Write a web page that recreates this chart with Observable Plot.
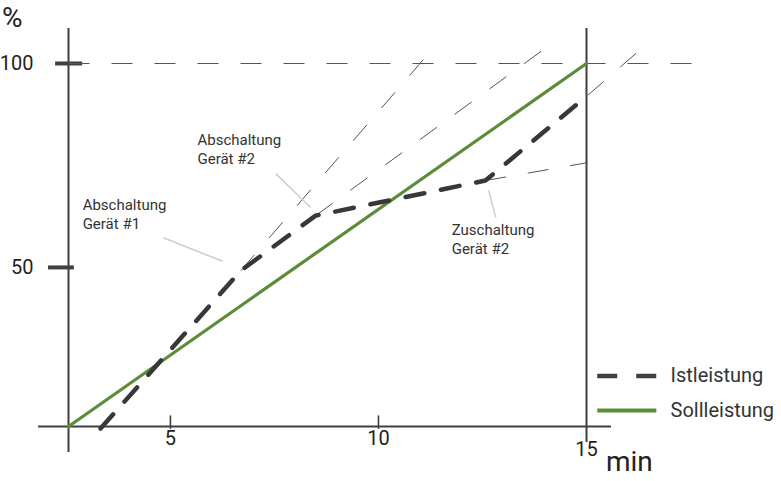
<!DOCTYPE html>
<html><head><meta charset="utf-8">
<script src="https://cdn.jsdelivr.net/npm/d3@7"></script>
<script src="https://cdn.jsdelivr.net/npm/@observablehq/plot@0.6"></script>
<style>body{margin:0;background:#fff;} svg{display:block;}</style>
</head><body><div id="chart"></div>
<script>
// Sollleistung (target power), % over minutes
const sollX = [2.55, 15];
const sollY = [11, 100];
// Istleistung (actual power)
const istX = [3.32, 6.69, 8.49, 12.57, 15.03];
const istY = [10.5, 49.2, 62.7, 71.3, 92.2];
// thin dashed guide lines (extensions of the segments + 100 % line)
const guideX1 = [2.55, 6.69, 8.49, 15.03, 12.57];
const guideY1 = [100, 49.2, 62.7, 92.2, 71.3];
const guideX2 = [17.86, 11.37, 14.14, 16.35, 15.03];
const guideY2 = [100, 104.4, 104.7, 103.9, 75.7];
// annotations
const annoText = ["Abschaltung\nGerät #1", "Abschaltung\nGerät #2", "Zuschaltung\nGerät #2"];
const annoX = [2.89, 5.65, 11.76];
const annoY = [63.3, 79.3, 57.0];
const leadX1 = [4.83, 7.53, 12.65];
const leadY1 = [57.3, 73.0, 68.9];
const leadX2 = [6.25, 8.37, 12.82];
const leadY2 = [51.5, 64.7, 62.2];
// ticks
const xTicks = [5, 10];
const xTickLast = [15];
const yTicks = [50, 100];
const seriesNames = ["Istleistung", "Sollleistung"];
const legendY = [23.4, 14.9];

const soll = sollX.map((x, i) => ({x, y: sollY[i]}));
const ist = istX.map((x, i) => ({x, y: istY[i]}));
const guides = guideX1.map((x1, i) => ({x1, y1: guideY1[i], x2: guideX2[i], y2: guideY2[i]}));
const annos = annoText.map((t, i) => ({t, x: annoX[i], y: annoY[i], x1: leadX1[i], y1: leadY1[i], x2: leadX2[i], y2: leadY2[i]}));
const legend = seriesNames.map((name, i) => ({name, y: legendY[i]}));

const AX = "#3f3f3f";
const GREEN = "#5b8c38";

const chart = Plot.plot({
  width: 781, height: 481,
  marginLeft: 68, marginRight: 195, marginTop: 63, marginBottom: 55,
  x: {domain: [2.55, 15]},
  y: {domain: [11, 100]},
  style: {fontFamily: "Roboto", background: "white", color: "#222", overflow: "visible"},
  marks: [
    // axis lines
    Plot.ruleY([11], {x1: 1.83, x2: 15.6, stroke: AX, strokeWidth: 2}),
    Plot.ruleX([2.55], {y1: 4.6, y2: 108.6, stroke: AX, strokeWidth: 2}),
    Plot.ruleX([15], {y1: 7.1, y2: 108.6, stroke: AX, strokeWidth: 2}),
    // x ticks
    Plot.ruleX(xTicks, {y1: 10.3, y2: 13.6, stroke: AX, strokeWidth: 1.6}),
    // y ticks (thick)
    Plot.ruleY([yTicks[1]], {x1: 2.24, x2: 2.89, stroke: AX, strokeWidth: 4}),
    Plot.ruleY([yTicks[0]], {x1: 2.07, x2: 2.69, stroke: AX, strokeWidth: 4}),
    Plot.axisY({ticks: yTicks, tickSize: 0, tickPadding: 35, fontSize: 20, label: null, color: "#222"}),
    Plot.axisX({ticks: xTicks, tickSize: 0, tickPadding: 4, fontSize: 20, label: null, color: "#222"}),
    Plot.axisX({ticks: xTickLast, tickSize: 0, tickPadding: 15, fontSize: 20, label: null, color: "#222"}),
    Plot.text(["%"], {x: 1.2, y: 111.2, text: d => d, fontSize: 28, fill: "#222"}),
    Plot.text(["min"], {x: 16.03, y: 2.3, text: d => d, fontSize: 28, fill: "#222"}),
    // guides
    Plot.link(guides, {x1: "x1", y1: "y1", x2: "x2", y2: "y2", stroke: "#555", strokeWidth: 1, strokeDasharray: "21,22"}),
    // leader lines
    Plot.link(annos, {x1: "x1", y1: "y1", x2: "x2", y2: "y2", stroke: "#cfcfcf", strokeWidth: 1.6}),
    Plot.text(annos, {x: "x", y: "y", text: "t", textAnchor: "start", fontSize: 15, lineHeight: 1.27, fill: "#333"}),
    // series
    Plot.line(soll, {x: "x", y: "y", stroke: GREEN, strokeWidth: 3.2}),
    Plot.line(ist, {x: "x", y: "y", stroke: "#383838", strokeWidth: 4.5, strokeDasharray: "19,17", strokeLinejoin: "miter"}),
    // legend
    Plot.ruleY(legend.slice(0, 1), {y: "y", x1: 15.27, x2: 16.69, stroke: "#404040", strokeWidth: 4.5, strokeDasharray: "20,19"}),
    Plot.ruleY(legend.slice(1), {y: "y", x1: 15.27, x2: 16.69, stroke: GREEN, strokeWidth: 4}),
    Plot.text(legend, {x: 17.02, y: "y", text: "name", textAnchor: "start", fontSize: 20, fill: "#333"})
  ]
});
document.getElementById("chart").append(chart);
</script>
</body></html>
